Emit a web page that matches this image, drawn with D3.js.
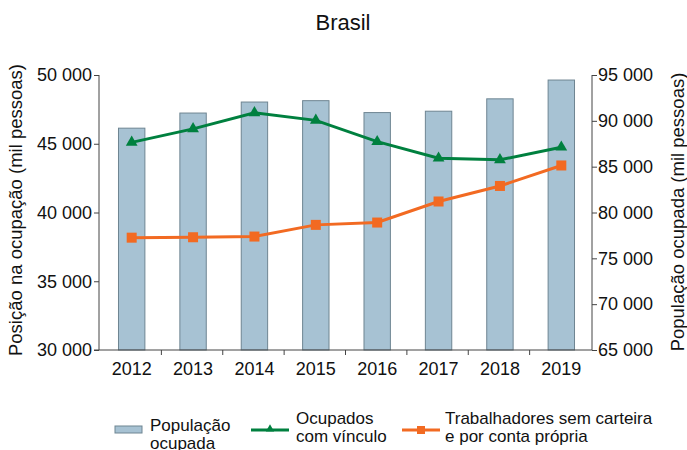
<!DOCTYPE html>
<html><head><meta charset="utf-8">
<script src="https://cdn.jsdelivr.net/npm/d3@7"></script>
<style>body{margin:0;background:#fff}svg{display:block;font-family:"Liberation Sans",Arial,sans-serif}</style>
</head><body>
<svg id="c" width="687" height="450"></svg>
<script>
const years = ["2012","2013","2014","2015","2016","2017","2018","2019"];
const populacaoOcupada = [89200, 90850, 92050, 92200, 90900, 91050, 92400, 94450];
const ocupadosVinculo = [45100, 46080, 47250, 46700, 45150, 43950, 43830, 44750];
const trabalhadoresSem = [38170, 38200, 38250, 39100, 39270, 40800, 41930, 43420];
const leftTicks = [30000, 35000, 40000, 45000, 50000];
const rightTicks = [65000, 70000, 75000, 80000, 85000, 90000, 95000];

const svg = d3.select("#c");
const FF = "Liberation Sans, Arial, sans-serif";
const fmt = v => d3.format(",")(v).replace(/,/g, " ");
const x = d3.scaleBand().domain(years).range([101, 592]).paddingInner(0.57).paddingOuter(0.285);
const xb = d3.scaleBand().domain(years).range([100, 591]);
const yL = d3.scaleLinear().domain([30000, 50000]).range([350, 75]);
const yR = d3.scaleLinear().domain([65000, 95000]).range([350, 75]);

svg.append("text").attr("x", 343).attr("y", 30).attr("text-anchor", "middle")
  .attr("font-size", 22).attr("fill", "#111").text("Brasil");

// bars
svg.append("g").selectAll("rect").data(years).join("rect")
  .attr("x", d => x(d)).attr("width", x.bandwidth())
  .attr("y", (d, i) => yR(populacaoOcupada[i]))
  .attr("height", (d, i) => 350 - yR(populacaoOcupada[i]))
  .attr("fill", "#a7c2d3").attr("stroke", "#6e8592").attr("stroke-width", 1);

// axes
const axisCol = "#444";
const gL = svg.append("g").attr("transform", "translate(99,0)")
  .call(d3.axisLeft(yL).tickValues(leftTicks).tickFormat(fmt).tickSize(5).tickPadding(2));
const gR = svg.append("g").attr("transform", "translate(592,0)")
  .call(d3.axisRight(yR).tickValues(rightTicks).tickFormat(fmt).tickSize(5).tickPadding(1));
[gL, gR].forEach(g => {
  g.select(".domain").attr("stroke", axisCol).attr("d", "M0,75V350");
  g.selectAll(".tick line").attr("stroke", axisCol);
  g.selectAll(".tick text").attr("font-size", 18).attr("fill", "#111").attr("font-family", FF);
});
// bottom axis
svg.append("line").attr("x1", 94).attr("x2", 592).attr("y1", 350).attr("y2", 350).attr("stroke", axisCol);
svg.append("g").selectAll("line").data(years.slice(1)).join("line")
  .attr("x1", d => xb(d)).attr("x2", d => xb(d)).attr("y1", 350).attr("y2", 355).attr("stroke", axisCol);
svg.append("g").selectAll("text").data(years).join("text")
  .attr("x", d => x(d) + x.bandwidth() / 2).attr("y", 375).attr("text-anchor", "middle")
  .attr("font-size", 18).attr("fill", "#111").text(d => d);

// axis titles
svg.append("text").attr("transform", "translate(22,210) rotate(-90)").attr("text-anchor", "middle")
  .attr("font-size", 18.5).attr("fill", "#111").text("Posição na ocupação (mil pessoas)");
svg.append("text").attr("transform", "translate(684,212) rotate(-90)").attr("text-anchor", "middle")
  .attr("font-size", 18.5).attr("fill", "#111").text("População ocupada (mil pessoas)");

const cx = (d) => x(d) + x.bandwidth() / 2;
const green = "#00803f", orange = "#f26a22";
const line = d3.line();
svg.append("path").attr("d", line(years.map((d, i) => [cx(d), yL(trabalhadoresSem[i])])))
  .attr("fill", "none").attr("stroke", orange).attr("stroke-width", 3);
svg.append("g").selectAll("rect").data(years).join("rect")
  .attr("x", d => cx(d) - 5).attr("y", (d, i) => yL(trabalhadoresSem[i]) - 5)
  .attr("width", 10).attr("height", 10).attr("fill", orange);
svg.append("path").attr("d", line(years.map((d, i) => [cx(d), yL(ocupadosVinculo[i])])))
  .attr("fill", "none").attr("stroke", green).attr("stroke-width", 3);
const tri = d3.symbol().type(d3.symbolTriangle).size(60);
svg.append("g").selectAll("path").data(years).join("path")
  .attr("transform", (d, i) => `translate(${cx(d)},${yL(ocupadosVinculo[i])})`)
  .attr("d", tri()).attr("fill", green);

// legend
const lg = svg.append("g").attr("font-size", 17).attr("fill", "#111");
lg.append("rect").attr("x", 115).attr("y", 426).attr("width", 27).attr("height", 7)
  .attr("fill", "#a7c2d3").attr("stroke", "#6e8592");
lg.append("text").attr("x", 150).attr("y", 431).text("População");
lg.append("text").attr("x", 150).attr("y", 449).text("ocupada");
lg.append("line").attr("x1", 251).attr("x2", 289).attr("y1", 430).attr("y2", 430).attr("stroke", green).attr("stroke-width", 3);
lg.append("path").attr("transform", "translate(270,429)").attr("d", d3.symbol().type(d3.symbolTriangle).size(30)()).attr("fill", green);
lg.append("text").attr("x", 296).attr("y", 424).text("Ocupados");
lg.append("text").attr("x", 296).attr("y", 442).text("com vínculo");
lg.append("line").attr("x1", 402).attr("x2", 440).attr("y1", 430).attr("y2", 430).attr("stroke", orange).attr("stroke-width", 3);
lg.append("rect").attr("x", 417).attr("y", 426).attr("width", 8).attr("height", 8).attr("fill", orange);
lg.append("text").attr("x", 445).attr("y", 424).text("Trabalhadores sem carteira");
lg.append("text").attr("x", 445).attr("y", 442).text("e por conta própria");
</script>
</body></html>
